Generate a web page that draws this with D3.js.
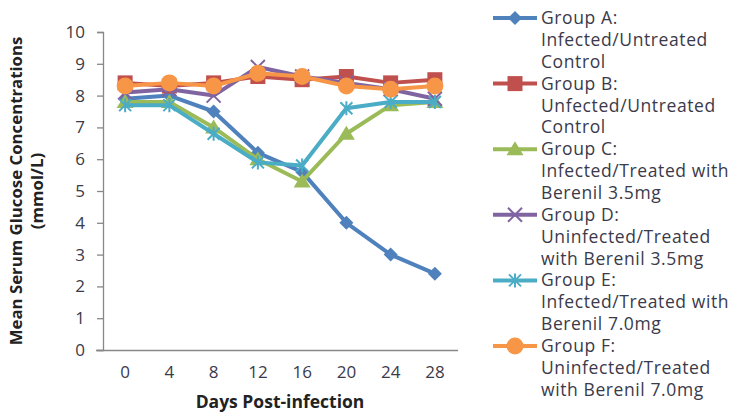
<!DOCTYPE html>
<html><head><meta charset="utf-8">
<script src="https://cdn.jsdelivr.net/npm/d3@7/dist/d3.min.js"></script>
<style>body{margin:0;background:#fff;} text{font-family:"Open Sans",Lato,sans-serif;}</style>
</head><body><svg id="c" width="733" height="415"></svg>
<script>
const days = ["0","4","8","12","16","20","24","28"];
const yTicks = [0,1,2,3,4,5,6,7,8,9,10];
const groupA = [7.9, 8.0, 7.5, 6.2, 5.6, 4.0, 3.0, 2.4];
const groupB = [8.4, 8.3, 8.4, 8.6, 8.5, 8.6, 8.4, 8.5];
const groupC = [7.8, 7.8, 7.0, 6.0, 5.3, 6.8, 7.7, 7.8];
const groupD = [8.1, 8.2, 8.0, 8.9, 8.6, 8.4, 8.2, 7.9];
const groupE = [7.7, 7.7, 6.8, 5.9, 5.8, 7.6, 7.8, 7.8];
const groupF = [8.3, 8.4, 8.3, 8.7, 8.6, 8.3, 8.2, 8.3];
const legendLabels = [
  ["Group A:","Infected/Untreated","Control"],
  ["Group B:","Unfected/Untreated","Control"],
  ["Group C:","Infected/Treated with","Berenil 3.5mg"],
  ["Group D:","Uninfected/Treated","with Berenil 3.5mg"],
  ["Group E:","Infected/Treated with","Berenil 7.0mg"],
  ["Group F:","Uninfected/Treated","with Berenil 7.0mg"]
];

const series = [
  {vals: groupA, color:"#4F81BD", marker:"diamond"},
  {vals: groupB, color:"#C0504D", marker:"square"},
  {vals: groupC, color:"#9BBB59", marker:"triangle"},
  {vals: groupD, color:"#8064A2", marker:"x"},
  {vals: groupE, color:"#4BACC6", marker:"star"},
  {vals: groupF, color:"#F79646", marker:"circle"}
];

const svg = d3.select("#c");
const x = d3.scaleBand().domain(days).range([103, 457]);
const y = d3.scaleLinear().domain([0,10]).range([350, 32]);
const textCol = "#3a3a4a";

// y axis
const ya = svg.append("g").attr("transform","translate(103,0)")
  .call(d3.axisLeft(y).tickValues(yTicks).tickSize(6).tickPadding(12));
ya.select(".domain").attr("stroke","#888").attr("stroke-width",1.3);
ya.selectAll(".tick line").attr("stroke","#888").attr("stroke-width",1.3);
ya.selectAll("text").attr("font-size",17).attr("fill",textCol).style("font-family","Open Sans");

// x axis
const xa = svg.append("g").attr("transform","translate(0,350)")
  .call(d3.axisBottom(x).tickSize(0).tickPadding(16));
xa.select(".domain").attr("stroke","#888").attr("stroke-width",1.3).attr("d","M96,0.5H458");
xa.selectAll("text").attr("font-size",17).attr("fill",textCol).style("font-family","Open Sans");

// axis titles
svg.append("text").attr("x",280).attr("y",408).attr("text-anchor","middle")
  .attr("font-size",17.5).attr("font-weight","bold").attr("fill","#222").text("Days Post-infection");
const yt = svg.append("text").attr("transform","translate(22,191) rotate(-90)")
  .attr("text-anchor","middle").attr("font-size",16.8).attr("font-weight","bold").attr("fill","#222");
yt.append("tspan").attr("x",0).attr("dy",0).text("Mean Serum Glucose Concentrations");
yt.append("tspan").attr("x",0).attr("dy",21).text("(mmol/L)");

function drawMarker(g, type, color, cx, cy) {
  const gg = g.append("g").attr("transform",`translate(${cx},${cy})`);
  if (type==="diamond") gg.append("path").attr("d","M0,-7L7,0L0,7L-7,0Z").attr("fill",color);
  else if (type==="square") gg.append("rect").attr("x",-7.5).attr("y",-7.5).attr("width",15).attr("height",15).attr("fill",color);
  else if (type==="triangle") gg.append("path").attr("d","M0,-8L8.5,6L-8.5,6Z").attr("fill",color);
  else if (type==="circle") gg.append("circle").attr("r",8.5).attr("fill",color);
  else if (type==="x") gg.append("path").attr("d","M-7,-7L7,7M-7,7L7,-7").attr("stroke",color).attr("stroke-width",2);
  else if (type==="star") gg.append("path").attr("d","M-6,-6L6,6M-6,6L6,-6M0,-7V7").attr("stroke",color).attr("stroke-width",2);
}

const line = d3.line().x((d,i)=>x(days[i])+x.bandwidth()/2).y(d=>y(d));
series.forEach(s=>{
  const g = svg.append("g");
  g.append("path").datum(s.vals).attr("d",line).attr("fill","none")
    .attr("stroke",s.color).attr("stroke-width",4).attr("stroke-linejoin","round");
  s.vals.forEach((v,i)=>drawMarker(g, s.marker, s.color, x(days[i])+x.bandwidth()/2, y(v)));
});

// legend
const legY0 = 18, itemH = 65.6, lineH = 21.9;
series.forEach((s,k)=>{
  const cy = legY0 + k*itemH;
  const g = svg.append("g");
  g.append("line").attr("x1",493).attr("x2",537).attr("y1",cy).attr("y2",cy)
    .attr("stroke",s.color).attr("stroke-width",4);
  drawMarker(g, s.marker, s.color, 515, cy);
  const t = g.append("text").attr("x",541).attr("y",cy+6).attr("font-size",17.5)
    .attr("letter-spacing",0.6).attr("fill",textCol);
  legendLabels[k].forEach((l,j)=>t.append("tspan").attr("x",541).attr("dy", j===0?0:lineH).text(l));
});
</script></body></html>
